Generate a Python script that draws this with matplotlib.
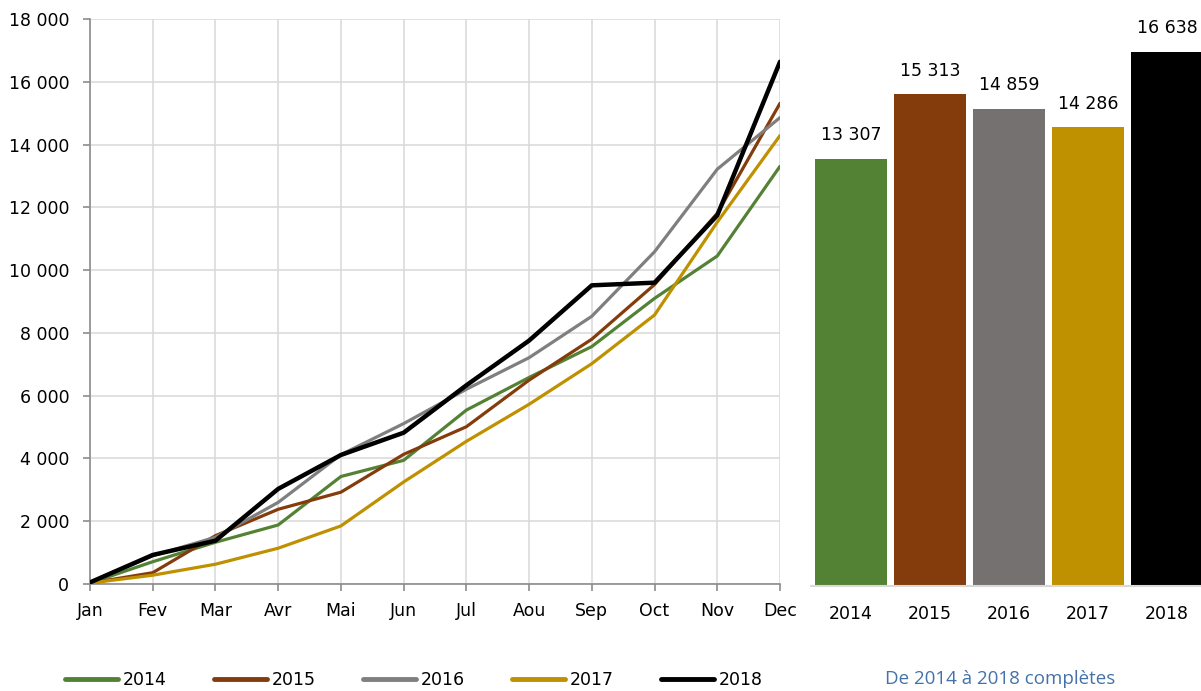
import matplotlib
matplotlib.use("Agg")
import matplotlib.pyplot as plt
from matplotlib.ticker import FuncFormatter, MultipleLocator

months = ["Jan", "Fev", "Mar", "Avr", "Mai", "Jun", "Jul", "Aou", "Sep", "Oct", "Nov", "Dec"]
years = ["2014", "2015", "2016", "2017", "2018"]

s2014 = [30, 710, 1330, 1880, 3425, 3940, 5540, 6580, 7565, 9100, 10450, 13307]
s2015 = [30, 360, 1540, 2380, 2925, 4130, 5010, 6495, 7800, 9540, 11810, 15313]
s2016 = [30, 900, 1490, 2600, 4120, 5110, 6205, 7210, 8530, 10585, 13215, 14859]
s2017 = [30, 280, 630, 1140, 1850, 3250, 4545, 5725, 7020, 8570, 11530, 14286]
s2018 = [50, 925, 1380, 3030, 4110, 4820, 6330, 7755, 9515, 9600, 11745, 16638]

totals = [13307, 15313, 14859, 14286, 16638]
total_labels = ["13 307", "15 313", "14 859", "14 286", "16 638"]

line_colors = ["#548235", "#843C0C", "#7F7F7F", "#BF9000", "#000000"]
bar_colors = ["#548235", "#843C0C", "#767171", "#BF9000", "#000000"]
line_widths = [2.3, 2.3, 2.3, 2.3, 3.2]

W, H = 1201, 691
fig = plt.figure(figsize=(W / 100, H / 100), dpi=100)

# Left line chart
ax = fig.add_axes([90 / W, 1 - 584 / H, (780 - 90) / W, (584 - 19) / H])
series = [s2014, s2015, s2016, s2017, s2018]
x = list(range(len(months)))
for s, c, lw, lab in zip(series, line_colors, line_widths, years):
    ax.plot(x, s, color=c, lw=lw, label=lab, solid_capstyle="round", zorder=3)
ax.set_xlim(0, 11)
ax.set_ylim(0, 18000)
ax.yaxis.set_major_locator(MultipleLocator(2000))
ax.yaxis.set_major_formatter(FuncFormatter(lambda v, p: f"{int(v):,}".replace(",", " ")))
ax.set_xticks(x)
ax.set_xticklabels(months)
ax.grid(True, color="#D9D9D9", lw=1.1, zorder=0)
for sp in ["top", "right"]:
    ax.spines[sp].set_visible(False)
for sp in ["left", "bottom"]:
    ax.spines[sp].set_color("#8C8C8C")
    ax.spines[sp].set_linewidth(1.2)
ax.tick_params(axis="both", colors="#8C8C8C", length=5, width=1.2, labelsize=12.5,
               labelcolor="#000000")
ax.tick_params(axis="x", pad=8)
ax.tick_params(axis="y", pad=10)

leg = fig.legend(*ax.get_legend_handles_labels(), loc="center", ncol=5,
                 bbox_to_anchor=(414 / W, 1 - 680 / H), frameon=False,
                 handlelength=3.05, handletextpad=0.25, columnspacing=2.75,
                 prop={"size": 12.5})
for h in leg.legend_handles:
    h.set_linewidth(3.5)

# Right bar chart
ax2 = fig.add_axes([811 / W, 1 - 586 / H, (1201 - 811) / W, 578 / H])
bx = list(range(len(years)))
ax2.bar(bx, totals, width=0.91, color=bar_colors, zorder=2)
ax2.set_xlim(-0.506, 4.43)
ax2.set_ylim(0, 18000)
for xi, v, t in zip(bx, totals, total_labels):
    ax2.text(xi, v + 450, t, ha="center", va="bottom", fontsize=12.5, color="#000000")
ax2.set_xticks(bx)
ax2.set_xticklabels(years)
ax2.set_yticks([])
for sp in ["top", "right", "left"]:
    ax2.spines[sp].set_visible(False)
ax2.spines["bottom"].set_color("#D9D9D9")
ax2.spines["bottom"].set_linewidth(1.5)
ax2.tick_params(axis="x", length=0, labelsize=12.5, pad=14)

fig.text(1000 / W, 1 - 679 / H, "De 2014 à 2018 complètes", ha="center", va="center",
         fontsize=13.5, color="#4472A8", family=["Open Sans", "DejaVu Sans"])

fig.savefig("out.png", dpi=100)
